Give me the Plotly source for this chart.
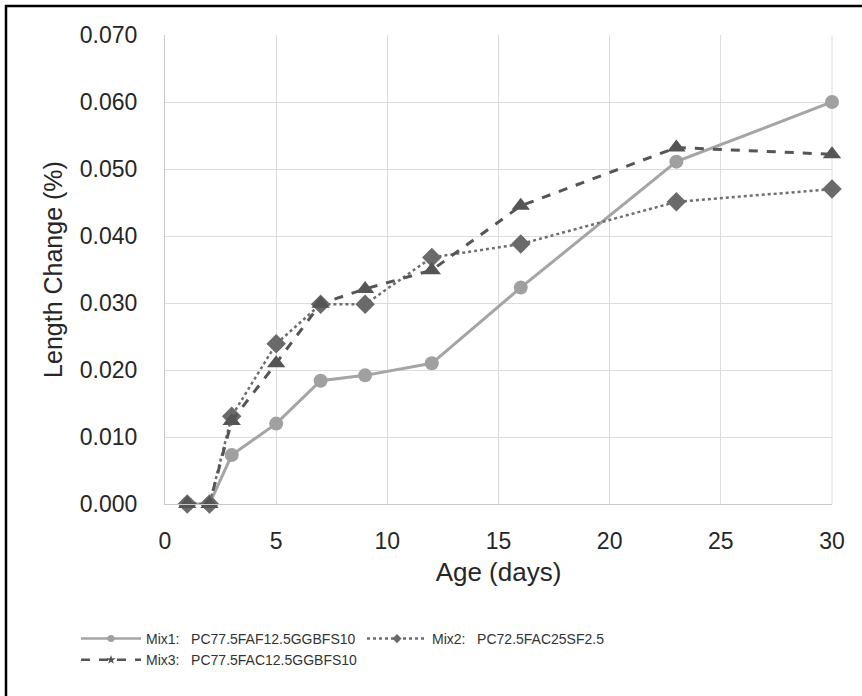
import plotly.graph_objects as go

age = [1, 2, 3, 5, 7, 9, 12, 16, 23, 30]
mix1 = [0.0, 0.0, 0.0073, 0.0120, 0.0184, 0.0192, 0.0210, 0.0323, 0.0511, 0.0600]
mix2 = [0.0, 0.0, 0.0131, 0.0239, 0.0298, 0.0298, 0.0368, 0.0388, 0.0451, 0.0470]
mix3 = [0.0, 0.0, 0.0124, 0.0210, 0.0299, 0.0321, 0.0349, 0.0445, 0.0532, 0.0522]
names = ["Mix1:   PC77.5FAF12.5GGBFS10", "Mix2:   PC72.5FAC25SF2.5", "Mix3:   PC77.5FAC12.5GGBFS10"]

W, H = 862, 696
ML, MR, MT, MB = 165, 30, 35, 192
PW, PH = W - ML - MR, H - MT - MB

def px_x(p):
    return (p - ML) / PW

def px_y(p):
    return (H - MB - p) / PH

styles = [
    dict(line=dict(color="#a5a5a5", width=3, dash="solid"), marker=dict(symbol="circle", size=14, color="#a0a0a0")),
    dict(line=dict(color="#6e6e6e", width=2.5, dash="dot"), marker=dict(symbol="diamond", size=15, color="#6a6a6a")),
    dict(line=dict(color="#555555", width=3, dash="dash"), marker=dict(symbol="triangle-up", size=16, color="#555555")),
]

fig = go.Figure()
for ys, nm, st in zip([mix1, mix2, mix3], names, styles):
    fig.add_trace(go.Scatter(x=age, y=ys, mode="lines+markers", name=nm, showlegend=False,
                             line=st["line"], marker=st["marker"], cliponaxis=False))
for nm, st, sym in zip(names, styles, ["circle", "diamond", "star"]):
    fig.add_trace(go.Scatter(x=[None], y=[None], mode="lines+markers", name=nm,
                             line=dict(color=st["line"]["color"], width=2.5, dash=st["line"]["dash"]),
                             marker=dict(symbol=sym, size=7, color=st["marker"]["color"])))

font_main = "Liberation Sans, Arial, sans-serif"
fig.update_layout(
    width=W, height=H,
    margin=dict(l=ML, r=MR, t=MT, b=MB, autoexpand=False),
    paper_bgcolor="white", plot_bgcolor="white",
    font=dict(family=font_main, color="#262626"),
    showlegend=True,
    legend=dict(orientation="h", x=px_x(76), y=px_y(623), xanchor="left", yanchor="top",
                entrywidth=211, entrywidthmode="pixels",
                font=dict(size=14, color="#333333"), bgcolor="rgba(0,0,0,0)",
                tracegroupgap=0, itemwidth=60),
    xaxis=dict(range=[0, 30], dtick=5, tick0=0, showgrid=True, gridcolor="#dcdcdc", gridwidth=1,
               showline=True, linecolor="#c8c8c8", linewidth=1, zeroline=False, ticks="",
               ticklabelstandoff=16, tickfont=dict(size=23, color="#262626"),
               title=dict(text="Age (days)", font=dict(size=26, color="#262626"), standoff=10)),
    yaxis=dict(range=[0, 0.07], dtick=0.01, tick0=0, tickformat=".3f", showgrid=True,
               gridcolor="#dcdcdc", gridwidth=1, showline=True, linecolor="#c8c8c8", linewidth=1,
               zeroline=False, ticks="", ticklabelstandoff=22, tickfont=dict(size=23, color="#262626"),
               title=dict(text="Length Change (%)", font=dict(size=25, color="#262626"), standoff=10)),
)
fig.add_shape(type="line", xref="paper", yref="paper", x0=1, x1=1, y0=0, y1=1,
              line=dict(color="#dcdcdc", width=1), layer="below")
fig.add_shape(type="line", xref="paper", yref="paper", x0=px_x(6), x1=px_x(6), y0=px_y(5), y1=px_y(H + 2),
              line=dict(color="black", width=2.5))
fig.add_shape(type="line", xref="paper", yref="paper", x0=px_x(5), x1=px_x(W + 2), y0=px_y(6), y1=px_y(6),
              line=dict(color="black", width=2.5))

fig.write_html("out.html")
